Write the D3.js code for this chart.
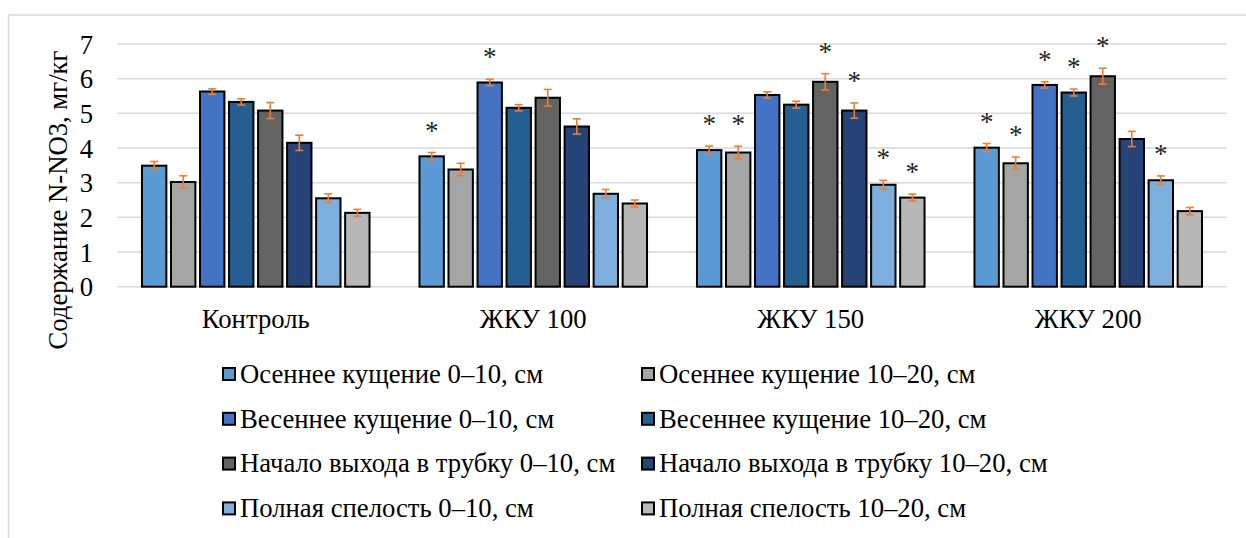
<!DOCTYPE html>
<html><head><meta charset="utf-8">
<script src="https://cdn.jsdelivr.net/npm/d3@7/dist/d3.min.js"></script>
<style>body{margin:0;background:#fff}svg{display:block}
svg text{font-family:"Liberation Serif","Times New Roman",serif;}</style>
</head><body><svg id="c" width="1246" height="538"></svg>
<script>
const categories = ["Контроль", "ЖКУ 100", "ЖКУ 150", "ЖКУ 200"];
const series = ["Осеннее кущение 0–10, см", "Осеннее кущение 10–20, см",
  "Весеннее кущение 0–10, см", "Весеннее кущение 10–20, см",
  "Начало выхода в трубку 0–10, см", "Начало выхода в трубку 10–20, см",
  "Полная спелость 0–10, см", "Полная спелость 10–20, см"];
const colors = ["#5B9BD5", "#A5A5A5", "#4472C4", "#255E91", "#636363", "#264478", "#7CAFDD", "#B7B7B7"];
// values[category][series]
const values = [
  [3.49, 3.02, 5.63, 5.33, 5.08, 4.15, 2.55, 2.13],
  [3.76, 3.38, 5.89, 5.16, 5.45, 4.62, 2.68, 2.40],
  [3.94, 3.87, 5.53, 5.25, 5.91, 5.08, 2.94, 2.57],
  [4.01, 3.56, 5.82, 5.60, 6.07, 4.26, 3.07, 2.18]
];
const errors = [
  [0.12, 0.18, 0.08, 0.09, 0.23, 0.22, 0.125, 0.10],
  [0.11, 0.18, 0.09, 0.09, 0.24, 0.22, 0.125, 0.10],
  [0.115, 0.18, 0.09, 0.10, 0.235, 0.22, 0.125, 0.10],
  [0.12, 0.18, 0.09, 0.10, 0.23, 0.22, 0.125, 0.105]
];
const stars = [
  [0,0,0,0,0,0,0,0],
  [1,0,1,0,0,0,0,0],
  [1,1,0,0,1,1,1,1],
  [1,1,1,1,1,0,1,0]
];
const yTicks = [0,1,2,3,4,5,6,7];
const yTitle = "Содержание N-NO3, мг/кг";

const svg = d3.select("#c");
const fs = "26.7px";
// frame
svg.append("rect").attr("x", 8.5).attr("y", 15).attr("width", 1300).attr("height", 600)
  .attr("fill", "none").attr("stroke", "#d9d9d9").attr("stroke-width", 1.5);

const pL = 117, pR = 1227, pT = 44, pB = 286.7;
const y = d3.scaleLinear().domain([0, 7]).range([pB, pT]);
const x0 = d3.scaleBand().domain(categories).range([pL, pR]).paddingInner(0.18).paddingOuter(0.09);
const x1 = d3.scaleBand().domain(series).range([0, x0.bandwidth()]).paddingInner(0.16);

// gridlines
svg.append("g").selectAll("line").data(yTicks).join("line")
  .attr("x1", pL).attr("x2", pR).attr("y1", d => y(d)).attr("y2", d => y(d))
  .attr("stroke", "#d9d9d9").attr("stroke-width", 1.5);

// y axis labels
const yAxis = d3.axisLeft(y).tickValues(yTicks).tickSize(0).tickPadding(0).tickFormat(d3.format("d"));
const ya = svg.append("g").attr("transform", `translate(${93},0)`).call(yAxis);
ya.select(".domain").remove();
ya.selectAll("text").style("font-family", '"Liberation Serif"').style("font-size", fs).attr("fill", "#000").attr("dy", "0.34em");

// x axis labels
const xAxis = d3.axisBottom(x0).tickSize(0).tickPadding(0);
const xa = svg.append("g").attr("transform", `translate(0,${328})`).call(xAxis);
xa.select(".domain").remove();
xa.selectAll("text").style("font-family", '"Liberation Serif"').style("font-size", fs).attr("fill", "#000").attr("dy", 0);

// y title
svg.append("text").attr("transform", `translate(67,200) rotate(-90)`)
  .attr("text-anchor", "middle").style("font-size", fs).attr("fill", "#000")
  .text(yTitle);

// bars
const groups = svg.append("g").selectAll("g").data(categories).join("g")
  .attr("transform", d => `translate(${x0(d)},0)`);
groups.each(function(cat, ci) {
  const g = d3.select(this);
  const data = series.map((s, si) => ({s, si, v: values[ci][si], e: errors[ci][si], st: stars[ci][si]}));
  g.selectAll("rect").data(data).join("rect")
    .attr("x", d => x1(d.s)).attr("width", x1.bandwidth())
    .attr("y", d => y(d.v)).attr("height", d => y(0) - y(d.v))
    .attr("fill", d => colors[d.si]).attr("stroke", "#000").attr("stroke-width", 2);
  const cx = d => x1(d.s) + x1.bandwidth() / 2;
  const eg = g.append("g").attr("stroke", "#ED7D31").attr("stroke-width", 1.6);
  eg.selectAll("line.v").data(data).join("line").attr("class", "v")
    .attr("x1", cx).attr("x2", cx).attr("y1", d => y(d.v + d.e)).attr("y2", d => y(d.v - d.e));
  eg.selectAll("line.t").data(data).join("line").attr("class", "t")
    .attr("x1", d => cx(d) - 4).attr("x2", d => cx(d) + 4).attr("y1", d => y(d.v + d.e)).attr("y2", d => y(d.v + d.e));
  eg.selectAll("line.b").data(data).join("line").attr("class", "b")
    .attr("x1", d => cx(d) - 4).attr("x2", d => cx(d) + 4).attr("y1", d => y(d.v - d.e)).attr("y2", d => y(d.v - d.e));
  g.selectAll("text.star").data(data.filter(d => d.st)).join("text").attr("class", "star")
    .attr("x", cx).attr("y", d => y(d.v + d.e) - 26 + 13)
    .attr("text-anchor", "middle").style("font-size", "27px").attr("fill", "#262626")
    .text("*");
});

// legend
const legX = [222, 641];
const leg = svg.append("g").selectAll("g").data(series).join("g")
  .attr("transform", (d, i) => `translate(${legX[i % 2]},${382.7 + Math.floor(i / 2) * 44.8})`);
leg.append("rect").attr("x", 1).attr("y", -14.7).attr("width", 12).attr("height", 12)
  .attr("fill", (d, i) => colors[i]).attr("stroke", "#000").attr("stroke-width", 2);
leg.append("text").attr("x", 18).attr("y", 0).style("font-size", fs).attr("fill", "#000")
  .text(d => d);
</script></body></html>
